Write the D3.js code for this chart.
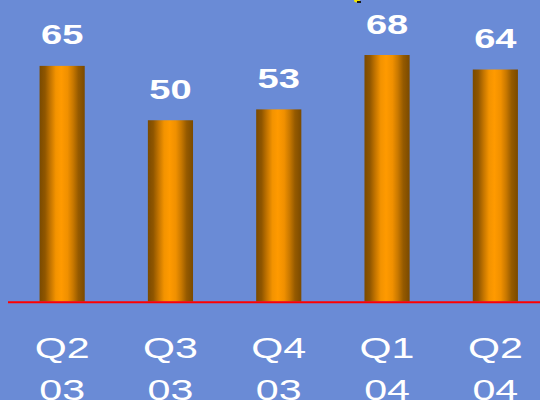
<!DOCTYPE html>
<html lang="en">
<head>
<meta charset="UTF-8">
<title>Quarterly bars</title>
<style>
  html, body { margin: 0; padding: 0; background: #6a8bd6; overflow: hidden; }
  svg { display: block; }
</style>
</head>
<body>
<svg class="chart"></svg>
<script src="https://cdnjs.cloudflare.com/ajax/libs/d3/7.8.5/d3.min.js"></script>
<script>
// data
const quarters = ['Q2', 'Q3', 'Q4', 'Q1', 'Q2'];
const years = ['03', '03', '03', '04', '04'];
const values = [65, 50, 53, 68, 64];

const width = 540, height = 400;
const keys = values.map((v, i) => i);

const svg = d3.select('.chart')
  .attr('width', width)
  .attr('height', height);

svg.append('rect')
  .attr('width', width).attr('height', height)
  .attr('fill', '#6a8bd6');

// cylinder look for the bars
const grad = svg.append('defs').append('linearGradient')
  .attr('id', 'cyl')
  .attr('x1', '0%').attr('x2', '100%').attr('y1', '0%').attr('y2', '0%');
[
  [0, '#7a4a00'], [0.12, '#8f5600'], [0.24, '#c47500'], [0.36, '#f39300'],
  [0.48, '#ff9a00'], [0.62, '#f09000'], [0.74, '#c87800'], [0.86, '#955a00'], [1, '#7a4a00']
].forEach(s => grad.append('stop').attr('offset', s[0]).attr('stop-color', s[1]));

const xScale = d3.scaleBand()
  .domain(keys)
  .range([8, 549.5])
  .paddingInner(0.583)
  .paddingOuter(0.2915);

const yScale = d3.scaleLinear()
  .domain([0, 80])
  .range([301.5, 11.5]);

// bars
svg.selectAll('rect.bar')
  .data(values)
  .enter().append('rect')
  .attr('class', 'bar')
  .attr('x', (d, i) => xScale(i))
  .attr('y', d => yScale(d))
  .attr('width', xScale.bandwidth())
  .attr('height', d => yScale(0) - yScale(d))
  .attr('fill', 'url(#cyl)');

// baseline
svg.append('line')
  .attr('x1', 8).attr('x2', width)
  .attr('y1', yScale(0) + 0.8).attr('y2', yScale(0) + 0.8)
  .attr('stroke', '#ff0000')
  .attr('stroke-width', 2);

const cx = i => xScale(i) + xScale.bandwidth() / 2;

// value labels (text in the original is stretched wide)
svg.selectAll('text.val')
  .data(values)
  .enter().append('text')
  .attr('class', 'val')
  .attr('transform', (d, i) => `translate(${cx(i)}, ${yScale(d) - 21.5}) scale(1.36,1)`)
  .attr('text-anchor', 'middle')
  .attr('fill', '#ffffff')
  .style('font-family', 'Liberation Sans, Arial, sans-serif')
  .style('font-weight', 'bold')
  .style('font-size', '28px')
  .text(d => d);

// category labels, two lines
const cat = svg.selectAll('g.cat')
  .data(keys)
  .enter().append('g')
  .attr('class', 'cat');

cat.append('text')
  .attr('transform', i => `translate(${cx(i)}, 358) scale(1.42,1)`)
  .text(i => quarters[i]);

cat.append('text')
  .attr('transform', i => `translate(${cx(i)}, 399.5) scale(1.42,1)`)
  .text(i => years[i]);

cat.selectAll('text')
  .attr('text-anchor', 'middle')
  .attr('fill', '#ffffff')
  .style('font-family', 'Liberation Sans, Arial, sans-serif')
  .style('font-size', '29px');

// small clipped icon fragment at the top edge
svg.append('ellipse')
  .attr('cx', 357).attr('cy', 0).attr('rx', 3).attr('ry', 2.5)
  .attr('fill', '#f2e600');
svg.append('rect')
  .attr('x', 357).attr('y', 1).attr('width', 4).attr('height', 2)
  .attr('fill', '#1a1a1a');
</script>
</body>
</html>
